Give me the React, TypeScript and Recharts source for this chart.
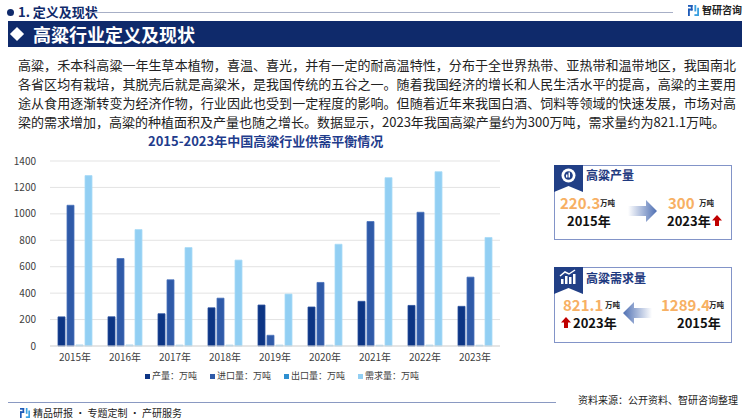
import React from 'react';
import { BarChart, Bar, XAxis, YAxis, CartesianGrid, Legend } from 'recharts';

const years = ['2015年', '2016年', '2017年', '2018年', '2019年', '2020年', '2021年', '2022年', '2023年'];
const output = [220.3, 221, 244, 289, 310, 295, 338, 307, 300];
const imports = [1065, 662, 501, 362, 81, 481, 942, 1012, 521];
const exports = [8, 8, 7, 7, 7, 6, 6, 7, 6];
const demand = [1289.4, 881, 745, 650, 393, 770, 1274, 1319, 821.1];
const yTicks = [0, 200, 400, 600, 800, 1000, 1200, 1400];

const SERIES = [
  { key: 'output', name: '产量：万吨', color: '#0d3584', stroke: '#2a4f9c', legend: '#0d3584' },
  { key: 'imports', name: '进口量：万吨', color: '#2f5aa8', stroke: '#4a72bb', legend: '#2f5aa8' },
  { key: 'exports', name: '出口量：万吨', color: '#a9d6f0', stroke: '#a9d6f0', legend: '#2e8fd0' },
  { key: 'demand', name: '需求量：万吨', color: '#92cff3', stroke: '#a8daf6', legend: '#92cff3' },
];

const data = years.map((year, i) => ({
  year,
  output: output[i],
  imports: imports[i],
  exports: exports[i],
  demand: demand[i],
}));

const FONT = '"Noto Sans CJK SC", "Noto Sans", sans-serif';
const NAVY = '#0f2a6b';

const paragraph = [
  '高粱，禾本科高粱一年生草本植物，喜温、喜光，并有一定的耐高温特性，分布于全世界热带、亚热带和温带地区，我国南北',
  '各省区均有栽培，其脱壳后就是高粱米，是我国传统的五谷之一。随着我国经济的增长和人民生活水平的提高，高粱的主要用',
  '途从食用逐渐转变为经济作物，行业因此也受到一定程度的影响。但随着近年来我国白酒、饲料等领域的快速发展，市场对高',
  '梁的需求增加，高粱的种植面积及产量也随之增长。数据显示，2023年我国高粱产量约为300万吨，需求量约为821.1万吨。',
];

function Logo({ size = 12 }: { size?: number }) {
  return (
    <svg width={size} height={size} viewBox="0 0 12 12">
      <rect x="0" y="0" width="5" height="2" fill="#1e5bb8" />
      <rect x="3" y="0" width="2" height="6" fill="#1e5bb8" />
      <rect x="0" y="4" width="5" height="2" fill="#1e5bb8" />
      <rect x="0" y="4" width="2" height="8" fill="#1e5bb8" />
      <rect x="7" y="0" width="2" height="7" fill="#3aa0e0" />
      <rect x="7" y="10" width="5" height="2" fill="#3aa0e0" />
      <rect x="10" y="3" width="2" height="9" fill="#3aa0e0" />
    </svg>
  );
}

function UpArrow({ left, top }: { left: number; top: number }) {
  return (
    <svg style={{ position: 'absolute', left, top }} width={10} height={11} viewBox="0 0 10 11">
      <path d="M5 0 L10 5.5 L7 5.5 L7 11 L3 11 L3 5.5 L0 5.5 Z" fill="#c00000" />
    </svg>
  );
}

function FlowArrow({ left, top, dir }: { left: number; top: number; dir: 'right' | 'left' }) {
  const id = 'g' + dir;
  const path = dir === 'right'
    ? 'M0 6 L18 6 L18 0 L29 11 L18 22 L18 16 L0 16 Z'
    : 'M29 6 L11 6 L11 0 L0 11 L11 22 L11 16 L29 16 Z';
  return (
    <svg style={{ position: 'absolute', left, top }} width={29} height={22} viewBox="0 0 29 22">
      <defs>
        <linearGradient id={id} x1={dir === 'right' ? '0' : '1'} y1="0" x2={dir === 'right' ? '1' : '0'} y2="0">
          <stop offset="0" stopColor="#ffffff" />
          <stop offset="1" stopColor="#4e6fb3" />
        </linearGradient>
      </defs>
      <path d={path} fill={`url(#${id})`} />
    </svg>
  );
}

function Tab({ left, top, icon }: { left: number; top: number; icon: 'pie' | 'bars' }) {
  return (
    <svg style={{ position: 'absolute', left, top }} width={29} height={28} viewBox="0 0 29 28">
      <path d="M0 0 L29 0 L29 27 L14.5 21 L0 27 Z" fill="#213f86" />
      {icon === 'pie' ? (
        <g>
          <circle cx="14.5" cy="10.5" r="7" fill="#ffffff" />
          <circle cx="14.5" cy="10.5" r="4.3" fill="#213f86" />
          <rect x="12" y="9.5" width="1.5" height="3" fill="#ffffff" />
          <rect x="14.5" y="7.5" width="1.5" height="5" fill="#ffffff" />
        </g>
      ) : (
        <g fill="#ffffff">
          <rect x="7" y="12" width="2.5" height="5" />
          <rect x="11" y="9" width="2.5" height="8" />
          <rect x="15" y="10" width="2.5" height="7" />
          <rect x="19" y="7" width="2.5" height="10" />
          <path d="M6 9 L11 5 L15 7 L21 3" stroke="#ffffff" strokeWidth="1.5" fill="none" />
        </g>
      )}
    </svg>
  );
}

function ChartLegend() {
  return (
    <div style={{ display: 'flex', paddingLeft: 145, fontSize: 9, color: '#404040', fontFamily: FONT, lineHeight: '12px' }}>
      {SERIES.map((s) => (
        <div key={s.key} style={{ display: 'flex', alignItems: 'center', marginRight: 13 }}>
          <span style={{ width: 5, height: 5, background: s.legend, marginRight: 2, display: 'inline-block' }} />
          <span>{s.name}</span>
        </div>
      ))}
    </div>
  );
}

const numStyle: React.CSSProperties = {
  position: 'absolute', color: '#f7b064', fontWeight: 700, fontSize: 15, lineHeight: '18px',
};
const unitStyle: React.CSSProperties = {
  position: 'absolute', color: '#222', fontWeight: 700, fontSize: 7.5, lineHeight: '10px',
};
const yearStyle: React.CSSProperties = {
  position: 'absolute', color: '#111', fontWeight: 700, fontSize: 13, lineHeight: '16px',
};

export default function App() {
  return (
    <div style={{ position: 'absolute', left: 0, top: 0, width: 750, height: 419, background: '#fff', fontFamily: FONT, overflow: 'hidden' }}>
      {/* header */}
      <div style={{ position: 'absolute', left: 7, top: 9, width: 7, height: 7, borderRadius: 4, background: NAVY }} />
      <div style={{ position: 'absolute', left: 18, top: 3, fontSize: 13, fontWeight: 700, color: NAVY, lineHeight: '18px' }}>1. 定义及现状</div>
      <div style={{ position: 'absolute', left: 88, top: 12, width: 585, height: 1, background: '#a7afc6' }} />
      <div style={{ position: 'absolute', left: 688, top: 3, display: 'flex', alignItems: 'center', gap: 3 }}>
        <Logo size={11} />
        <span style={{ fontSize: 10, fontWeight: 700, color: '#222', lineHeight: '14px' }}>智研咨询</span>
      </div>
      <div style={{ position: 'absolute', left: 8, top: 21, width: 734, height: 26, background: '#0f2a6b' }} />
      <div style={{ position: 'absolute', left: 12, top: 29, width: 10, height: 10, background: '#fff', transform: 'rotate(45deg)' }} />
      <div style={{ position: 'absolute', left: 33, top: 21, fontSize: 18, fontWeight: 700, color: '#fff', lineHeight: '26px' }}>高粱行业定义及现状</div>

      {/* paragraph */}
      {paragraph.map((line, i) => (
        <div
          key={i}
          style={{
            position: 'absolute', left: 18, top: 55.5 + i * 19.2, width: i < 3 ? 718 : 'auto',
            fontSize: 13, lineHeight: '18px', color: '#222', whiteSpace: 'nowrap',
            textAlign: 'justify', textAlignLast: i < 3 ? 'justify' : 'left',
          }}
        >
          {line}
        </div>
      ))}

      <div style={{ position: 'absolute', left: 148, top: 132.5, fontSize: 13, fontWeight: 700, color: '#1f3c8c', lineHeight: '16px' }}>
        2015-2023年中国高粱行业供需平衡情况
      </div>

      {/* chart */}
      <div style={{ position: 'absolute', left: 0, top: 150 }}>
        <BarChart
          width={510}
          height={240}
          data={data}
          margin={{ top: 11, right: 10, left: 0, bottom: 0 }}
          barSize={7}
          barGap={2}
        >
          <CartesianGrid vertical={false} stroke="#e3e3e3" />
          <XAxis
            dataKey="year"
            height={24}
            tickLine={false}
            axisLine={{ stroke: '#d9d9d9' }}
            tick={{ fontSize: 10, fill: '#404040', fontFamily: FONT }}
            interval={0}
          />
          <YAxis
            width={50}
            domain={[0, 1400]}
            ticks={yTicks}
            axisLine={false}
            tickLine={false}
            tickMargin={8}
            tick={{ fontSize: 10, fill: '#404040', fontFamily: FONT }}
          />
          <Legend verticalAlign="bottom" height={20} content={() => <ChartLegend />} wrapperStyle={{ left: 0, width: 510 }} />
          {SERIES.map((s) => (
            <Bar
              key={s.key}
              dataKey={s.key}
              name={s.name}
              fill={s.color}
              stroke={s.stroke}
              strokeWidth={0.8}
              isAnimationActive={false}
            />
          ))}
        </BarChart>
      </div>

      {/* panel 1: output */}
      <div style={{ position: 'absolute', left: 554, top: 165, width: 178, height: 75, border: '1px solid #8294c8', boxSizing: 'border-box' }} />
      <Tab left={554} top={165} icon="pie" />
      <div style={{ position: 'absolute', left: 586, top: 166, fontSize: 12, fontWeight: 700, color: '#1f3a80', lineHeight: '17px' }}>高粱产量</div>
      <div style={{ ...numStyle, left: 560, top: 194 }}>220.3</div>
      <div style={{ ...unitStyle, left: 600, top: 198 }}>万吨</div>
      <div style={{ ...yearStyle, left: 567, top: 213 }}>2015年</div>
      <FlowArrow left={628} top={200} dir="right" />
      <div style={{ ...numStyle, left: 668, top: 194 }}>300</div>
      <div style={{ ...unitStyle, left: 699, top: 198 }}>万吨</div>
      <div style={{ ...yearStyle, left: 667, top: 213 }}>2023年</div>
      <UpArrow left={712} top={215} />

      {/* panel 2: demand */}
      <div style={{ position: 'absolute', left: 554, top: 267, width: 178, height: 76, border: '1px solid #8294c8', boxSizing: 'border-box' }} />
      <Tab left={554} top={267} icon="bars" />
      <div style={{ position: 'absolute', left: 586, top: 269, fontSize: 12, fontWeight: 700, color: '#1f3a80', lineHeight: '17px' }}>高粱需求量</div>
      <div style={{ ...numStyle, left: 563, top: 296 }}>821.1</div>
      <div style={{ ...unitStyle, left: 605, top: 300 }}>万吨</div>
      <UpArrow left={561} top={317} />
      <div style={{ ...yearStyle, left: 573, top: 315 }}>2023年</div>
      <FlowArrow left={623} top={302} dir="left" />
      <div style={{ ...numStyle, left: 661, top: 296 }}>1289.4</div>
      <div style={{ ...unitStyle, left: 709, top: 300 }}>万吨</div>
      <div style={{ ...yearStyle, left: 677, top: 315 }}>2015年</div>

      {/* footer */}
      <div style={{ position: 'absolute', left: 8, top: 402, width: 548, height: 1, background: '#8a99c2' }} />
      <div style={{ position: 'absolute', left: 578, top: 393, fontSize: 10, color: '#222', lineHeight: '14px' }}>资料来源：公开资料、智研咨询整理</div>
      <div style={{ position: 'absolute', left: 20, top: 406, display: 'flex', alignItems: 'center', gap: 3 }}>
        <Logo size={10} />
        <span style={{ fontSize: 10, color: '#222', lineHeight: '14px' }}>精品研报 · 专题定制 · 产研服务</span>
      </div>
    </div>
  );
}
